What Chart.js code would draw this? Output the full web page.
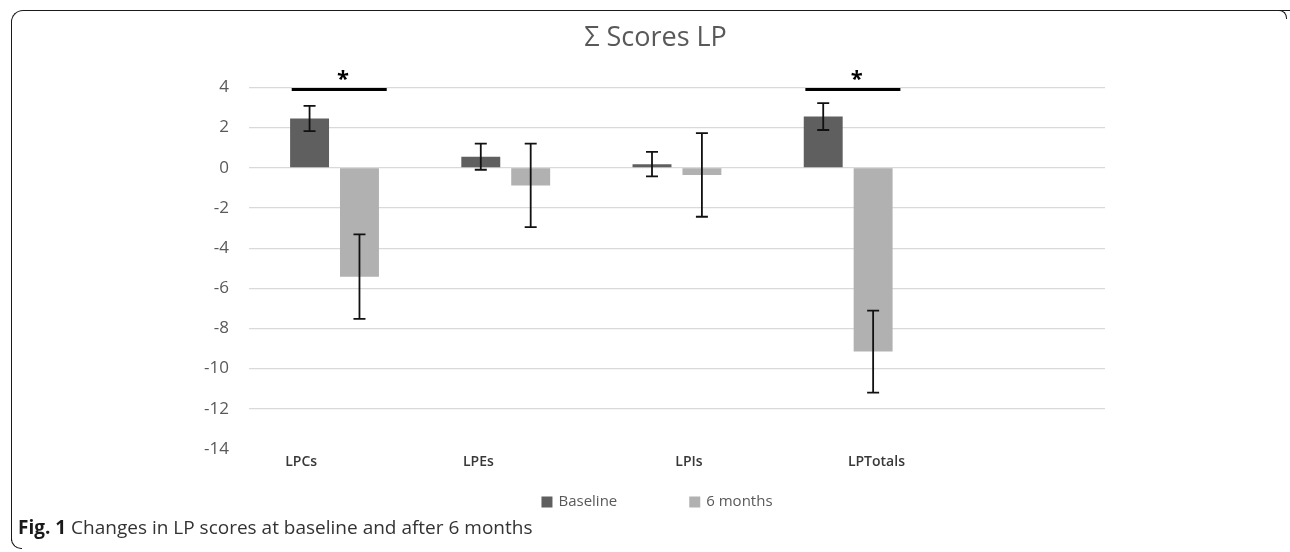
<!DOCTYPE html>
<html>
<head>
<meta charset="utf-8">
<script src="https://cdn.jsdelivr.net/npm/chart.js@4.4.0/dist/chart.umd.min.js"></script>
<style>
  html, body { margin: 0; padding: 0; background: #fff; }
  #wrap { position: relative; width: 1290px; height: 552px; overflow: hidden; }
  #c { position: absolute; left: 0; top: 0; }
  .frame { position: absolute; border-color: #1a1a1a; border-style: solid; border-width: 0; }
  #caption { position: absolute; left: 18px; top: 514px; font-family: "Open Sans", sans-serif; font-size: 19px; color: #333; white-space: nowrap; }
  #caption b { color: #1a1a1a; }
</style>
</head>
<body>
<div id="wrap">
  <canvas id="c" width="1290" height="552"></canvas>
  <div class="frame" style="left:11px; top:10px; width:1290px; height:530px; border-left-width:1.5px; border-top-width:1.5px; border-top-left-radius:12px;"></div>
  <div class="frame" style="left:11px; top:538px; width:10px; height:10px; border-left-width:1.5px; border-bottom-width:1.5px; border-bottom-left-radius:10px;"></div>
  <div class="frame" style="left:1276px; top:10px; width:10px; height:8px; border-right-width:1.5px; border-top-width:1.5px; border-top-right-radius:8px;"></div>
  <div id="caption"><b>Fig. 1</b> Changes in LP scores at baseline and after 6 months</div>
</div>
<script>
// ---- data ----
const categories = ['LPCs', 'LPEs', 'LPIs', 'LPTotals', ''];
const seriesNames = ['Baseline', '6 months'];
const baseline = [2.45, 0.55, 0.18, 2.55];
const baselineErr = [0.63, 0.65, 0.61, 0.67];
const sixMonths = [-5.42, -0.88, -0.36, -9.15];
const sixMonthsErr = [2.10, 2.08, 2.08, 2.04];
const yTicks = [4, 2, 0, -2, -4, -6, -8, -10, -12, -14];
const sigCategories = [0, 3];
const sigLevel = 3.9;
const titleText = 'Σ Scores LP';

// ---- styling / layout helpers (not data) ----
const colors = ['#5f5f5f', '#b1b1b1'];
const labelShift = [-0.195, -0.16, 0.07, 0.165]; // category-label offsets in category units
const errors = [baselineErr, sixMonthsErr];

const errorBarPlugin = {
  id: 'errorBars',
  afterDatasetsDraw(chart) {
    const ctx = chart.ctx, y = chart.scales.y;
    ctx.save();
    ctx.strokeStyle = '#111';
    ctx.lineWidth = 1.8;
    chart.data.datasets.forEach((ds, d) => {
      const meta = chart.getDatasetMeta(d);
      meta.data.forEach((bar, i) => {
        const v = ds.data[i], e = errors[d][i];
        if (v === null || v === undefined) return;
        const x = bar.x;
        const yt = y.getPixelForValue(v + e), yb = y.getPixelForValue(v - e);
        ctx.beginPath();
        ctx.moveTo(x, yt); ctx.lineTo(x, yb);
        ctx.moveTo(x - 6, yt); ctx.lineTo(x + 6, yt);
        ctx.moveTo(x - 6, yb); ctx.lineTo(x + 6, yb);
        ctx.stroke();
      });
    });
    ctx.restore();
  }
};

const annotPlugin = {
  id: 'annot',
  afterDraw(chart) {
    const ctx = chart.ctx, xs = chart.scales.x, ys = chart.scales.y;
    const step = xs.getPixelForValue(1) - xs.getPixelForValue(0);
    ctx.save();
    // significance bars
    sigCategories.forEach(ci => {
      const cx = xs.getPixelForValue(ci);
      const yy = ys.getPixelForValue(sigLevel);
      ctx.strokeStyle = '#000';
      ctx.lineWidth = 3;
      ctx.beginPath();
      ctx.moveTo(cx - 0.25 * step, yy);
      ctx.lineTo(cx + 0.305 * step, yy);
      ctx.stroke();
      ctx.fillStyle = '#000';
      ctx.font = 'bold 22px "Open Sans", sans-serif';
      ctx.textAlign = 'center';
      ctx.textBaseline = 'alphabetic';
      ctx.fillText('*', cx + 0.05 * step, yy - 3);
    });
    // category labels
    ctx.fillStyle = '#383838';
    ctx.font = '600 14px "Open Sans", sans-serif';
    ctx.textAlign = 'center';
    ctx.textBaseline = 'middle';
    categories.forEach((c, i) => {
      if (!c) return;
      const x = xs.getPixelForValue(i + labelShift[i]);
      ctx.fillText(c, x, chart.chartArea.bottom + 13);
    });
    // legend
    ctx.font = '15px "Open Sans", sans-serif';
    ctx.textBaseline = 'middle';
    ctx.textAlign = 'left';
    const box = 11, gapBT = 6, gapItems = 72;
    const widths = seriesNames.map(n => box + gapBT + ctx.measureText(n).width);
    const total = widths.reduce((a, b) => a + b, 0) + gapItems;
    let x = chart.width / 2 + 12 - total / 2;
    const ly = chart.chartArea.bottom + 53;
    seriesNames.forEach((n, i) => {
      ctx.fillStyle = colors[i];
      ctx.fillRect(x, ly - box / 2, box, box);
      ctx.fillStyle = '#595959';
      ctx.fillText(n, x + box + gapBT, ly);
      x += widths[i] + gapItems;
    });
    ctx.restore();
  }
};

new Chart(document.getElementById('c'), {
  type: 'bar',
  data: {
    labels: categories,
    datasets: [
      { label: seriesNames[0], data: baseline, backgroundColor: colors[0] },
      { label: seriesNames[1], data: sixMonths, backgroundColor: colors[1] }
    ]
  },
  options: {
    responsive: false,
    animation: false,
    categoryPercentage: 0.583,
    barPercentage: 0.78,
    layout: { padding: { left: 184, right: 163, top: 0, bottom: 103 } },
    plugins: {
      legend: { display: false },
      tooltip: { enabled: false },
      title: {
        display: true,
        text: titleText,
        color: '#595959',
        font: { family: '"Open Sans", sans-serif', size: 27, weight: 'normal' },
        padding: { top: 22, bottom: 33 }
      }
    },
    scales: {
      x: { display: false },
      y: {
        min: -14, max: 4,
        afterBuildTicks(scale) { scale.ticks = yTicks.map(v => ({ value: v })); },
        ticks: {
          color: '#595959',
          font: { family: '"Open Sans", sans-serif', size: 17 },
          padding: 20
        },
        grid: {
          color: ctx => (ctx.tick && ctx.tick.value === -14) ? 'rgba(0,0,0,0)' : '#d9d9d9',
          lineWidth: 1.2,
          drawTicks: false
        },
        border: { display: false }
      },
      yRightSpacer: {
        position: 'right',
        min: -14, max: 4,
        afterFit(scale) { scale.width = 22; },
        ticks: { display: false },
        grid: { display: false },
        border: { display: false }
      }
    }
  },
  plugins: [errorBarPlugin, annotPlugin]
});
</script>
</body>
</html>
